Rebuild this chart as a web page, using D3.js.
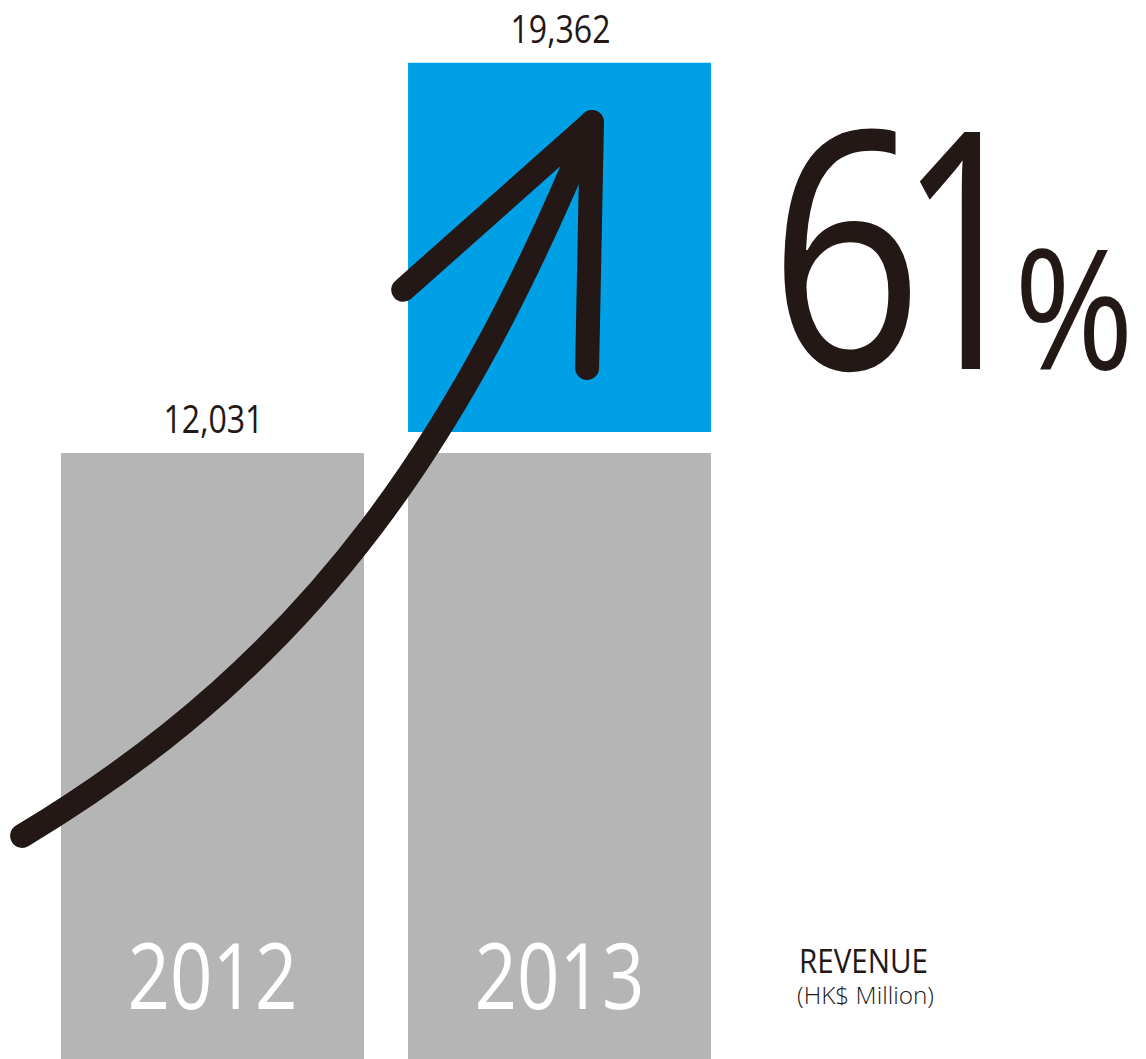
<!DOCTYPE html>
<html>
<head>
<meta charset="utf-8">
<script src="https://cdn.jsdelivr.net/npm/d3@7"></script>
<style>
  html, body { margin: 0; padding: 0; background: #fff; }
  svg { display: block; }
  text { font-family: "Open Sans", Lato, sans-serif; fill: #231815; }
</style>
</head>
<body>
<div id="chart"></div>
<script>
// revenue, HK$ million
const years = ["2012", "2013"];
const revenue = [12031, 19362];
const valueLabels = ["12,031", "19,362"];
const growthDigits = ["6", "1"];
const metricTitle = "REVENUE";
const metricUnit = "(HK$ Million)";

// arrow drawn in data space: [bar position (0 = 2012, 1 = 2013), revenue]
const arrowCurve = [[-0.112, 4430], [0.752, 8000], [1.17, 12570], [1.53, 18600]];
const arrowHead = [[0.986, 15270], [1.53, 18600], [1.516, 13720]];

const width = 1146, height = 1059;
const gap = 21; // white gap between base and the increase

const svg = d3.select("#chart").append("svg")
    .attr("width", width)
    .attr("height", height);

const x = d3.scaleBand().domain(years).range([61, 711]).paddingInner(0.127).paddingOuter(0);
const y = d3.scaleLinear().domain([0, revenue[0]]).range([height, 453]);
const xPos = d3.scaleLinear().domain([0, 1]).range([x(years[0]), x(years[1])]);

const base = revenue[0];
const inc = revenue[1] - base;
const incTop = y(base) - gap - (y(0) - y(inc));

// grey base bars
svg.selectAll("rect.base").data(years).join("rect")
    .attr("class", "base")
    .attr("x", d => x(d))
    .attr("y", y(base))
    .attr("width", x.bandwidth())
    .attr("height", height - y(base))
    .attr("fill", "#b5b5b5");

// blue increase on 2013
svg.append("rect")
    .attr("x", x(years[1]))
    .attr("y", incTop)
    .attr("width", x.bandwidth())
    .attr("height", y(0) - y(inc))
    .attr("fill", "#00a0e6");

// value labels
const topOf = i => i === 0 ? y(base) : incTop;
svg.selectAll("text.val").data(valueLabels).join("text")
    .attr("class", "val")
    .attr("x", (d, i) => x(years[i]) + x.bandwidth() / 2 + 1)
    .attr("y", (d, i) => topOf(i) - 20)
    .attr("text-anchor", "middle")
    .attr("font-size", 38)
    .attr("font-weight", 400)
    .attr("textLength", 100)
    .attr("lengthAdjust", "spacingAndGlyphs")
    .text(d => d);

// year labels inside bars
svg.selectAll("text.year").data(years).join("text")
    .attr("class", "year")
    .attr("x", d => x(d) + x.bandwidth() / 2)
    .attr("y", 1009)
    .attr("text-anchor", "middle")
    .attr("font-size", 91)
    .attr("font-weight", 400)
    .attr("textLength", 170)
    .attr("lengthAdjust", "spacingAndGlyphs")
    .style("fill", "#fff")
    .text(d => d);

// arrow
const pt = d => [xPos(d[0]), y(d[1])];
const c = arrowCurve.map(pt);
const path = d3.path();
path.moveTo(c[0][0], c[0][1]);
path.bezierCurveTo(c[1][0], c[1][1], c[2][0], c[2][1], c[3][0], c[3][1]);
svg.append("path")
    .attr("d", path.toString())
    .attr("fill", "none")
    .attr("stroke", "#231815")
    .attr("stroke-width", 24)
    .attr("stroke-linecap", "round");

svg.append("path")
    .attr("d", d3.line()(arrowHead.map(pt)))
    .attr("fill", "none")
    .attr("stroke", "#231815")
    .attr("stroke-width", 24)
    .attr("stroke-linecap", "round")
    .attr("stroke-linejoin", "round");

// growth figure
svg.append("text")
    .attr("x", 769)
    .attr("y", 369)
    .attr("font-size", 332)
    .attr("font-weight", 500)
    .attr("textLength", 154)
    .attr("lengthAdjust", "spacingAndGlyphs")
    .text(growthDigits[0]);

svg.append("text")
    .attr("x", 899)
    .attr("y", 369)
    .attr("font-size", 332)
    .attr("font-weight", 500)
    .attr("textLength", 132)
    .attr("lengthAdjust", "spacingAndGlyphs")
    .text(growthDigits[1]);

svg.append("text")
    .attr("x", 1014)
    .attr("y", 369)
    .attr("font-size", 166)
    .attr("font-weight", 400)
    .attr("textLength", 120)
    .attr("lengthAdjust", "spacingAndGlyphs")
    .text("%");

// metric label
svg.append("text")
    .attr("x", 799)
    .attr("y", 973)
    .attr("font-size", 32)
    .attr("textLength", 129)
    .attr("lengthAdjust", "spacingAndGlyphs")
    .text(metricTitle);

svg.append("text")
    .attr("x", 797)
    .attr("y", 1004)
    .attr("font-size", 24)
    .attr("font-weight", 300)
    .attr("textLength", 137)
    .attr("lengthAdjust", "spacingAndGlyphs")
    .text(metricUnit);
</script>
</body>
</html>
